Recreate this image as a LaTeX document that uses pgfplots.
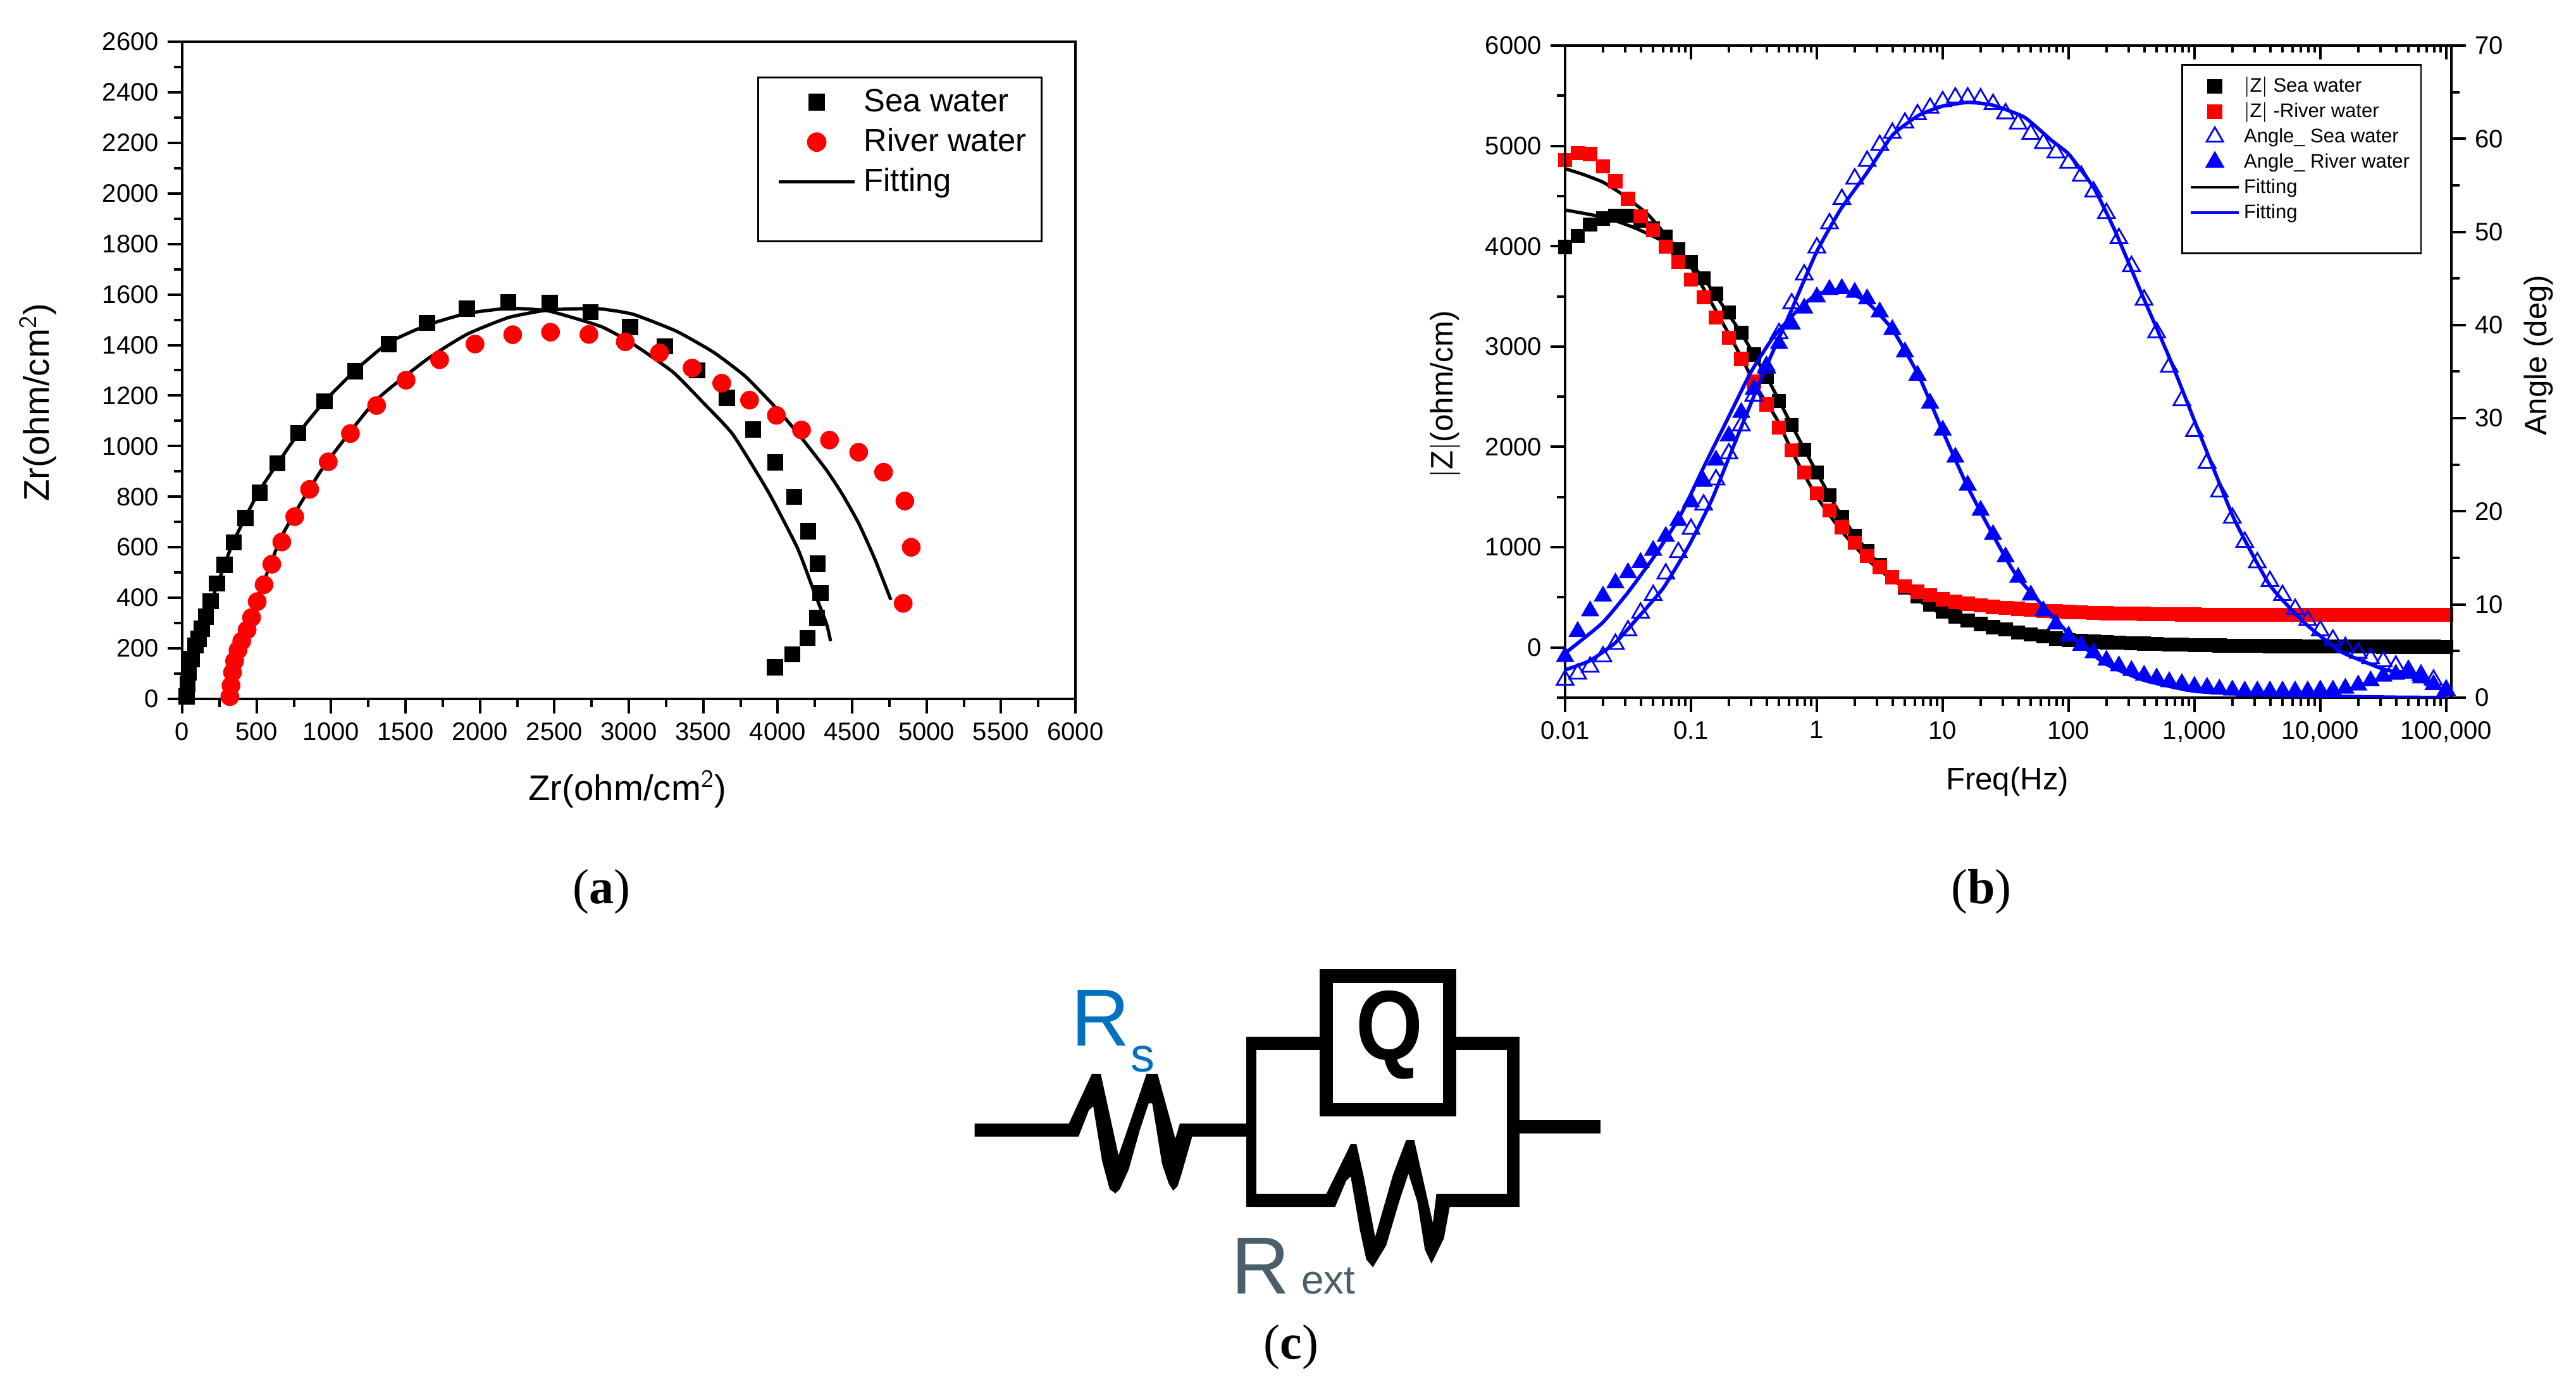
\documentclass[border=0pt]{standalone}
\usepackage{fontspec}
\setmainfont{Liberation Sans}
\newfontfamily\capfont{Liberation Serif}
\usepackage{pgfplots}
\usepackage{pgfplotstable}
\pgfplotsset{compat=1.18}
\definecolor{rsblue}{RGB}{0,112,192}
\definecolor{rextgray}{RGB}{74,95,107}

\pgfplotstableread{
x y
30 10
36 60
45 105
65 158
90 211
110 237
133 278
160 325
192 387
233 457
285 531
347 619
425 716
520 816
640 932
780 1052
957 1177
1163 1296
1388 1404
1645 1488
1911 1544
2190 1569
2469 1566
2743 1530
3008 1472
3241 1395
3460 1300
3659 1191
3835 1066
3984 936
4112 799
4205 663
4268 535
4288 419
4264 320
4201 241
4099 176
3982 125
}\seaN
\pgfplotstableread{
x y
320 9
328 53
338 105
352 150
375 193
400 229
436 273
466 322
504 385
550 452
602 533
669 621
756 721
856 829
981 938
1130 1050
1306 1161
1504 1261
1729 1342
1967 1404
2220 1441
2474 1451
2732 1442
2976 1413
3206 1369
3425 1309
3624 1249
3811 1182
3991 1122
4160 1064
4348 1024
4544 976
4711 897
4854 783
4897 600
4843 378
}\rivN
\pgfplotstableread{
x y
45 0
100 190
200 390
290 540
350 630
520 825
780 1050
960 1180
1163 1300
1388 1410
1650 1480
1911 1525
2190 1545
2460 1535
2815 1473
3026 1405
3297 1293
3503 1170
3698 1047
3937 819
4132 598
4240 431
4327 299
4355 229
}\seaF
\pgfplotstableread{
x y
322 0
404 193
512 405
675 651
946 915
1298 1179
1650 1346
1911 1442
2192 1509
2463 1539
2789 1544
3027 1522
3319 1455
3568 1372
3785 1275
4002 1143
4153 1038
4327 906
4435 809
4544 695
4652 554
4760 392
}\rivF

\pgfplotstableread{
f zs zr as ar
0.01 3993 4859 1.9 4.4
0.0126 4104 4930 2.55 7.1
0.0158 4215 4920 3.3 9.3
0.02 4275 4794 4.4 10.9
0.0251 4305 4648 5.75 12.3
0.0316 4305 4472 7.2 13.4
0.0398 4252 4296 9.1 14.5
0.0501 4177 4160 11.0 15.8
0.0631 4094 3994 13.3 17.3
0.0794 3968 3842 15.6 19.0
0.1 3842 3667 18.1 21.0
0.126 3681 3490 20.7 23.2
0.158 3525 3289 23.4 25.5
0.2 3339 3088 26.2 28.1
0.251 3138 2876 29.2 30.6
0.316 2921 2650 32.4 33.1
0.398 2695 2423 35.4 35.6
0.501 2458 2192 39.1 38.0
0.631 2217 1965 42.3 40.1
0.794 1971 1744 45.4 41.8
1 1744 1537 48.3 43.0
1.26 1517 1366 50.9 43.8
1.58 1301 1200 53.5 43.9
2 1115 1044 55.7 43.5
2.51 959 913 57.6 42.8
3.16 823 802 59.3 41.4
3.98 697 702 60.6 39.5
5.01 596 611 61.7 37.1
6.31 511 556 62.6 34.6
7.94 430 521 63.3 31.6
10 360 481 64.0 28.7
12.6 310 455 64.4 25.8
15.8 269 435 64.4 22.8
20 234 420 64.3 20.1
25.1 204 405 63.7 17.5
31.6 179 395 62.7 15.1
39.8 150 385 61.6 12.9
50.1 130 375 60.5 11.0
63.1 112 365 59.5 9.3
79.4 90 360 58.5 7.9
100 72 355 57.4 6.6
126 65 350 56.0 5.6
158 58 345 54.3 4.8
200 52 342 52.0 4.0
251 47 340 49.3 3.4
316 42 338 46.3 2.9
398 38 336 42.7 2.4
501 34 334 39.2 2.1
631 31 332 35.5 1.7
794 28 330 31.9 1.5
1000 25 328 28.6 1.2
1260 22 327 25.2 1.1
1580 20 326 22.1 0.9
2000 18 326 19.3 0.8
2510 17 326 16.7 0.7
3160 16 326 14.5 0.7
3980 15 326 12.5 0.7
5010 14 326 11.0 0.7
6310 13 326 9.5 0.7
7940 12 326 8.3 0.7
10000 11 326 7.2 0.8
12600 10 326 6.2 0.8
15800 10 326 5.4 1.0
20000 9 326 4.8 1.35
25100 9 326 4.2 1.8
31600 8 326 3.9 2.3
39800 8 326 3.4 2.5
50100 7 326 2.9 2.6
63100 7 326 2.4 2.1
79400 7 326 1.9 1.4
100000 6 326 0.8 0.8
}\bode

\pgfplotstableread{
x y
0.01 4773
0.0141 4713
0.02 4638
0.0281 4522
0.0451 4321
0.0624 4119
0.103 3767
0.165 3314
0.235 2962
0.336 2584
0.478 2282
0.681 1880
1 1502
1.56 1165
2.49 883
4.0 672
6.43 521
10 445
16.5 410
44.6 360
100 330
1000 315
100000 310
}\zRF
\pgfplotstableread{
x y
0.01 4361
0.0175 4305
0.0249 4255
0.0378 4170
0.0723 3993
0.126 3681
0.249 3138
0.401 2695
0.631 2217
1 1744
1.585 1301
2.53 959
4 697
6.43 471
10 330
16.5 244
44.6 118
100 65
1000 20
10000 10
100000 5
}\zSF
\pgfplotstableread{
x y
0.01 2.98
0.0157 3.96
0.0249 5.86
0.0378 8.57
0.0605 11.8
0.097 16.4
0.147 21.3
0.235 28.1
0.378 34.9
0.605 41.1
1 47.9
1.56 52.5
2.49 56.3
4.0 60.4
6.43 62.5
10 63.5
16 63.9
25 63.6
44.6 62.3
73.5 59.8
101 58.3
159 54.7
234 50.1
391 43.0
655 36.0
1094 28.4
2080 19.1
3963 12.1
7534 8.0
14320 5.0
21090 4.0
31050 3.1
51900 2.3
100000 0.7
}\aSF
\pgfplotstableread{
x y
0.01 4.77
0.0197 8.0
0.0316 11.3
0.0507 15.1
0.0813 19.4
0.130 25.1
0.197 30.0
0.298 34.9
0.451 38.7
0.681 41.4
1 43.3
1.56 43.8
2.49 42.5
4.0 39.5
6.43 34.6
10 28.6
15.7 22.7
25 17.5
39.5 12.9
100 6.9
193 3.7
391 1.9
1000 0.7
3963 0.27
37600 0.05
100000 0.02
}\aRF

\pgfplotsset{
  common/.style={
    scale only axis,
    axis line style={-,line width=1.2pt},
    tick style={line width=1pt,black},
    major tick length=5.75pt,
    minor tick length=3.3pt,
    tick label style={font=\fontsize{10}{12}\selectfont},
    /pgf/number format/assume math mode=true,
    /pgf/number format/1000 sep={},
    legend cell align=left,
  },
  firstA/.style={legend image code/.code={\path (-4.5pt,9.5pt);\draw[mark repeat=2,mark phase=2,##1] plot coordinates {(0pt,0pt)(15pt,0pt)(30pt,0pt)};}},
  firstB/.style={legend image code/.code={\path (0pt,7.2pt);\draw[mark repeat=2,mark phase=2,##1] plot coordinates {(0pt,0pt)(9.5pt,0pt)(19pt,0pt)};}},
}

\begin{document}
\begin{tikzpicture}
\path[use as bounding box] (0,0) rectangle (1018pt,544pt);

% ---------- (a)
\begin{axis}[common,
  at={(72pt,267.75pt)}, width=353pt, height=259.75pt,
  xmin=0, xmax=6000, ymin=0, ymax=2600,
  xtick={0,500,...,6000}, minor x tick num=1,
  ytick={0,200,...,2600}, minor y tick num=1,
  xtick pos=bottom, ytick pos=left, tick align=outside,
  xlabel={Zr(ohm/cm$^{\mathsf{2}}$)},
  ylabel={Zr(ohm/cm$^{\mathsf{2}}$)},
  label style={font=\fontsize{14.1}{16}\selectfont},
  xlabel style={at={(axis description cs:0.4986,-0.137)},anchor=center},
  ylabel style={at={(axis description cs:-0.1615,0.4514)},anchor=center,rotate=0},
  legend image code/.code={\path (-4.5pt,0pt);\draw[mark repeat=2,mark phase=2,#1] plot coordinates {(0pt,0pt)(15pt,0pt)(30pt,0pt)};},
  legend style={at={(axis description cs:0.6438,0.947)},anchor=north west,
    font=\fontsize{12.7}{14}\selectfont,draw=black,line width=0.7pt,fill=white,
    row sep=0pt,inner xsep=3pt,inner ysep=0pt,
    nodes={text height=10.5pt,text depth=3.2pt,inner xsep=3pt,inner ysep=1pt}},
]
\addplot[only marks,mark=square*,mark size=3pt,black,firstA] table {\seaN};
\addlegendentry{Sea water}
\addplot[only marks,mark=*,mark size=3.5pt,red] table {\rivN};
\addlegendentry{River water}
\addplot[black,line width=1.3pt,smooth,tension=0.3] table {\seaF};
\addlegendentry{Fitting}
\addplot[black,line width=1.3pt,smooth,tension=0.3,forget plot] table {\rivF};
\addlegendimage{empty legend}
\addlegendentry{}
\end{axis}

% ---------- (b) left
\begin{axis}[common,
  xmode=log, xmin=0.01, xmax=110000,
  xtick={0.01,0.1,1,10,100,1000,10000,100000},
  minor xtick={0.02,0.03,0.04,0.05,0.06,0.07,0.08,0.09,
      0.2,0.3,0.4,0.5,0.6,0.7,0.8,0.9,
      2,3,4,5,6,7,8,9,
      20,30,40,50,60,70,80,90,
      200,300,400,500,600,700,800,900,
      2000,3000,4000,5000,6000,7000,8000,9000,
      20000,30000,40000,50000,60000,70000,80000,90000},
  at={(618.5pt,268.25pt)}, width=350.25pt, height=257.75pt,
  xtick pos=bottom, ytick pos=left, tick align=outside,
  xticklabels={0.01,0.1,1,10,100,{1,000},{10,000},{100,000}},
  ymin=-500, ymax=6000,
  ytick={0,1000,...,6000},
  minor ytick={-500,500,...,5500},
  xlabel={Freq(Hz)}, ylabel={$|$Z$|$(ohm/cm)},
  label style={font=\fontsize{12.3}{14}\selectfont},
  xlabel style={at={(axis description cs:0.499,-0.129)},anchor=center},
  ylabel style={at={(axis description cs:-0.135,0.465)},anchor=center,rotate=0},
]
\addplot[only marks,mark=square*,mark size=2.6pt,black] table[x=f,y=zs] {\bode};
\addplot[only marks,mark=square*,mark size=2.6pt,red] table[x=f,y=zr] {\bode};
\addplot[black,line width=1.3pt,smooth,tension=0.3] table {\zSF};
\addplot[black,line width=1.3pt,smooth,tension=0.3] table {\zRF};
\end{axis}

% ---------- (b) inward ticks on the top edge only
\begin{axis}[common,
  xmode=log, xmin=0.01, xmax=110000, ymin=0, ymax=70,
  xtick={0.01,0.1,1,10,100,1000,10000,100000},
  minor xtick={0.02,0.03,0.04,0.05,0.06,0.07,0.08,0.09,
      0.2,0.3,0.4,0.5,0.6,0.7,0.8,0.9,
      2,3,4,5,6,7,8,9,
      20,30,40,50,60,70,80,90,
      200,300,400,500,600,700,800,900,
      2000,3000,4000,5000,6000,7000,8000,9000,
      20000,30000,40000,50000,60000,70000,80000,90000},
  at={(618.5pt,268.25pt)}, width=350.25pt, height=257.75pt,
  ytick=\empty, xticklabels=\empty,
  xtick pos=top, tick align=inside,
  major tick length=5.5pt, minor tick length=2.8pt,
]
\addplot[draw=none,forget plot] coordinates {(1,1) (10,2)};
\end{axis}

% ---------- (b) right: angle axis
\begin{axis}[common,
  xmode=log, xmin=0.01, xmax=110000,
  at={(618.5pt,268.25pt)}, width=350.25pt, height=257.75pt,
  xtick=\empty,
  ytick pos=right, yticklabel pos=right, tick align=outside,
  ymin=0, ymax=70,
  ytick={0,10,...,70},
  minor ytick={5,15,...,65},
  ylabel={Angle (deg)},
  label style={font=\fontsize{12.3}{14}\selectfont},
  ylabel style={at={(axis description cs:1.098,0.525)},anchor=center,rotate=0},
  legend image code/.code={\draw[mark repeat=2,mark phase=2,#1] plot coordinates {(0pt,0pt)(9.5pt,0pt)(19pt,0pt)};},
  legend style={at={(axis description cs:0.6950,0.972)},anchor=north west,
    font=\fontsize{7.75}{9}\selectfont,draw=black,line width=0.7pt,fill=white,
    row sep=0pt,inner xsep=3pt,inner ysep=1pt,
    nodes={text height=6.5pt,text depth=2pt,inner xsep=1.5pt,inner ysep=0.75pt}},
]
\addlegendimage{only marks,mark=square*,mark size=2.6pt,black,firstB}
\addlegendentry{$|$Z$|$ Sea water}
\addlegendimage{only marks,mark=square*,mark size=2.6pt,red}
\addlegendentry{$|$Z$|$ -River water}
\addlegendimage{only marks,mark=triangle,mark size=3.8pt,blue,mark options={line width=0.7pt}}
\addlegendentry{Angle\_ Sea water}
\addlegendimage{only marks,mark=triangle*,mark size=3.8pt,blue}
\addlegendentry{Angle\_ River water}
\addlegendimage{black,line width=1pt}
\addlegendentry{Fitting}
\addlegendimage{blue,line width=1pt}
\addlegendentry{Fitting}
\addlegendimage{empty legend}
\addlegendentry{}
\addplot[only marks,mark=triangle,mark size=3.8pt,blue,mark options={line width=0.7pt}] table[x=f,y=as] {\bode};
\addplot[only marks,mark=triangle*,mark size=3.8pt,blue] table[x=f,y=ar] {\bode};
\addplot[blue,line width=1.4pt,smooth,tension=0.3] table {\aSF};
\addplot[blue,line width=1.4pt,smooth,tension=0.3] table {\aRF};
\end{axis}

% ---------- captions
\node[font=\capfont\fontsize{19.5}{22}\selectfont] at (237.75pt,191.5pt) {(\textbf{a})};
\node[font=\capfont\fontsize{19.5}{22}\selectfont] at (783pt,191.5pt) {(\textbf{b})};
\node[font=\capfont\fontsize{19.5}{22}\selectfont] at (510.25pt,11.5pt) {(\textbf{c})};

% ---------- (c) circuit, coordinates in units of the crop
\begin{scope}[shift={(375pt,174pt)},x=0.17544pt,y=-0.11111pt]
  % Rs with its wires
  \fill (58,667) -- (270,667) -- (322,490) -- (342,490) -- (382,780) -- (430,560) -- (445,490) -- (470,490) -- (510,720) -- (520,667) -- (680,667)
     -- (680,713) -- (548,713) -- (525,840) -- (515,890) -- (505,905) -- (495,880) -- (480,810) -- (458,595) -- (450,595) -- (430,690) -- (405,830) -- (385,900) -- (375,915) -- (362,900) -- (345,800) -- (325,605) -- (315,620) -- (292,713) -- (58,713) -- cycle;
  % frame
  \fill (670,357) rectangle (835,405);
  \fill (670,357) rectangle (692,963);
  \fill (1143,357) rectangle (1285,405);
  \fill (1257,357) rectangle (1285,963);
  \fill (1285,654) rectangle (1467,702);
  % Rext
  \fill (680,917) -- (850,917) -- (905,740) -- (918,740) -- (935,860) -- (960,1070) -- (1000,850) -- (1030,725) -- (1048,725) -- (1090,1020) -- (1098,917) -- (1270,917)
     -- (1270,963) -- (1128,963) -- (1115,1075) -- (1087,1165) -- (1072,1115) -- (1055,945) -- (1035,845) -- (1015,940) -- (985,1100) -- (955,1178) -- (940,1150) -- (925,1040) -- (905,855) -- (895,870) -- (870,963) -- (680,963) -- cycle;
  % Q box
  \fill (835,118) rectangle (1143,642);
  \fill[white] (865,167) rectangle (1113,595);
  \node[font=\bfseries\fontsize{34}{36}\selectfont,yscale=1.15,transform shape,anchor=center,inner sep=0pt] at (993,352) {Q};
  \node[font=\fontsize{32}{34}\selectfont,text=rsblue,anchor=base west,inner sep=0pt] at (275,390) {R};
  \node[font=\fontsize{19}{21}\selectfont,text=rsblue,anchor=base west,inner sep=0pt] at (408,482) {s};
  \node[font=\fontsize{32}{34}\selectfont,text=rextgray,anchor=base west,inner sep=0pt] at (635,1272) {R};
  \node[font=\fontsize{16}{18}\selectfont,text=rextgray,anchor=base west,inner sep=0pt] at (793,1272) {ext};
\end{scope}
\end{tikzpicture}
\end{document}
